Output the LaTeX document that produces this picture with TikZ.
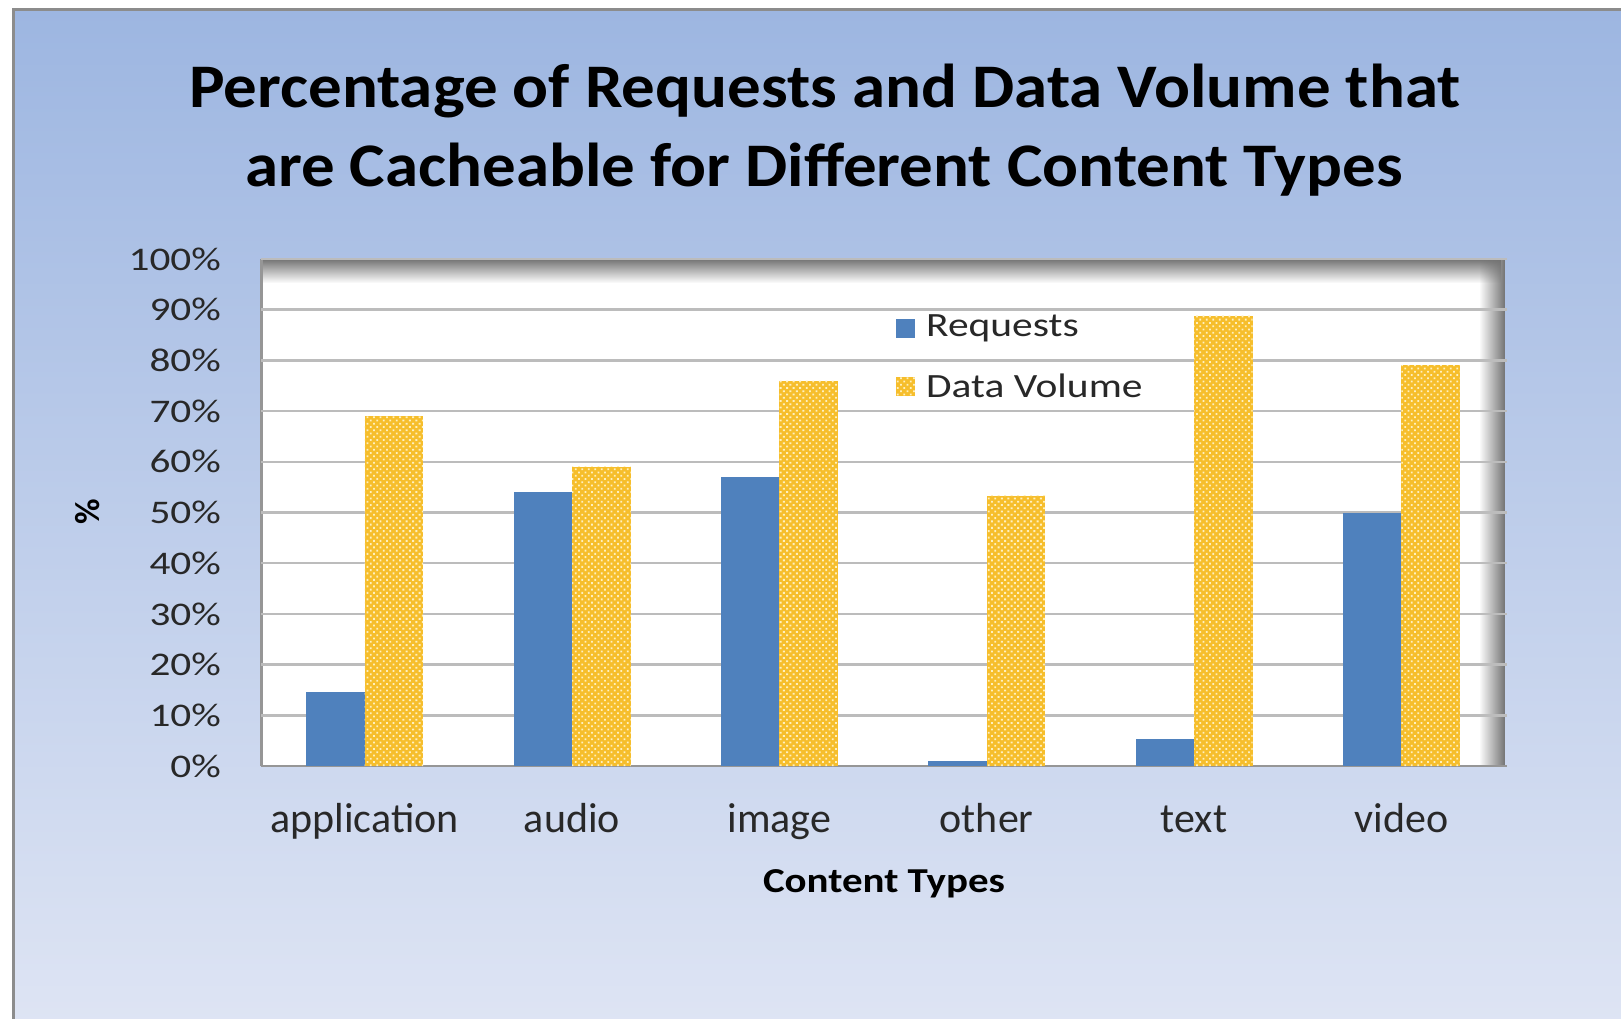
\documentclass[tikz,border=0pt]{standalone}
\usepackage{fontspec}
\setmainfont{Carlito}
\usetikzlibrary{patterns.meta,fadings}

\definecolor{bgtop}{RGB}{157,182,225}
\definecolor{bgbot}{RGB}{223,229,244}
\definecolor{framegray}{RGB}{140,140,140}
\definecolor{reqblue}{RGB}{79,129,189}
\definecolor{dvbase}{RGB}{246,190,44}
\definecolor{dvlight}{RGB}{255,240,190}
\definecolor{gridgray}{RGB}{188,188,188}
\definecolor{axisgray}{RGB}{150,150,150}
\definecolor{inkgray}{RGB}{40,40,40}

% font size in picture units (1pt = 1px)
\newcommand{\chartfs}[1]{\fontsize{#1}{#1}\selectfont}

% soft inner shadows of the plot area
\tikzfading[name=shadowtop, top color=transparent!0, bottom color=transparent!100]
\tikzfading[name=shadowright, left color=transparent!100, right color=transparent!0]

\tikzset{
  ticklabel/.style={anchor=east, inner sep=0pt, text=inkgray},
  catlabel/.style={anchor=base, inner sep=0pt, text=inkgray},
  legendlabel/.style={anchor=west, inner sep=0pt, text=inkgray},
  titleline/.style={anchor=center, inner sep=0pt, text=black},
  gridline/.style={draw=gridgray, line width=2.5pt},
  reqbar/.style={fill=reqblue},
  dvbar/.style={fill=dvbase},
  dvdots/.style={pattern={Dots[distance=4.6pt, radius=1.3pt, angle=45]}, pattern color=dvlight},
}

\begin{document}
\begin{tikzpicture}[x=1pt, y=-1pt]
\useasboundingbox (0,0) rectangle (1621,1019);
\clip (0,0) rectangle (1621,1019);
\fill[white] (0,0) rectangle (1621,1019);

% chart frame with vertical gradient
\shade[top color=bgtop, bottom color=bgbot] (13,10) rectangle (1640,1040);
\draw[framegray, line width=3pt] (1640,10) -- (13,10) -- (13,1040);

% title
\node[titleline] (title1) at (825,91) {\scalebox{1.08}[1]{\chartfs{62}\bfseries Percentage of Requests and Data Volume that}};
\node[titleline] (title2) at (824,170) {\scalebox{1.08}[1]{\chartfs{62}\bfseries are Cacheable for Different Content Types}};

% plot area
\fill[white] (261,259) rectangle (1505,766);
\fill[black!55, path fading=shadowtop] (261,259) rectangle (1505,283);
\fill[black!55, path fading=shadowright] (1479,259) rectangle (1505,766);
\draw[axisgray, line width=3pt] (261,259) -- (261,766);

% horizontal gridlines and tick labels
\foreach \k in {0,...,10} {
  \pgfmathsetmacro{\yy}{766-50.7*\k}
  \draw[gridline] (261,\yy) -- (1507,\yy);
  \pgfmathtruncatemacro{\pc}{10*\k}
  \node[ticklabel] (tick\k) at (221,\yy) {\scalebox{1.25}[1]{\chartfs{33}\pc\%}};
}
\draw[axisgray, line width=2.5pt] (261,766) -- (1507,766);

% bars: category index / requests / data volume / category name
\foreach \i/\r/\d/\nm in {0/14.5/69/application, 1/54/59/audio, 2/57/76/image, 3/1/53.3/other, 4/5.3/88.8/text, 5/50/79/video} {
  \pgfmathsetmacro{\cx}{261+207.33*(\i+0.5)}
  \pgfmathsetmacro{\yr}{766-5.07*\r}
  \pgfmathsetmacro{\yd}{766-5.07*\d}
  \fill[reqbar] (\cx-58.5,\yr) rectangle (\cx,766);
  \fill[dvbar] (\cx,\yd) rectangle (\cx+58.5,766);
  \fill[dvdots] (\cx,\yd) rectangle (\cx+58.5,766);
  \node[catlabel] (cat\i) at (\cx,832) {\chartfs{42}\nm};
}

% legend
\fill[reqblue] (896,319) rectangle (915,338);
\node[legendlabel] (legreq) at (926,328) {\scalebox{1.22}[1]{\chartfs{34}Requests}};
\fill[dvbase] (896,377) rectangle (915,396);
\fill[dvdots] (896,377) rectangle (915,396);
\node[legendlabel] (legdv) at (926,386) {\scalebox{1.22}[1]{\chartfs{34}Data Volume}};

% axis titles
\node[catlabel, anchor=center, text=black] (xtitle) at (884,884) {\scalebox{1.17}[1]{\chartfs{35}\bfseries Content Types}};
\node[catlabel, anchor=center, text=black, rotate=90] (ytitle) at (88,512) {\chartfs{35}\bfseries\%};
\end{tikzpicture}
\end{document}
